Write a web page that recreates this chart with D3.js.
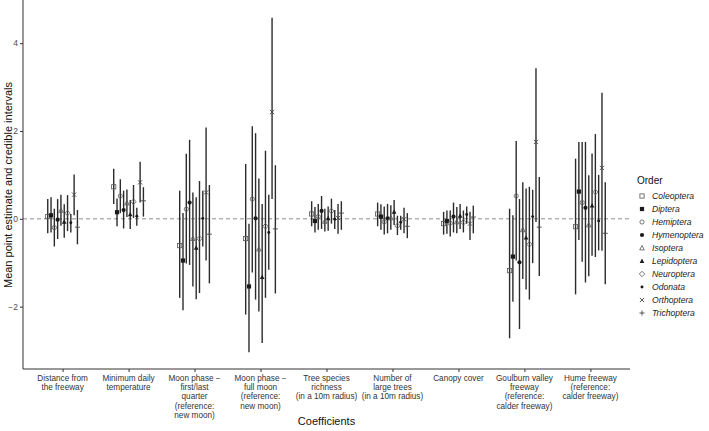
<!DOCTYPE html>
<html><head><meta charset="utf-8">
<script src="https://cdn.jsdelivr.net/npm/d3@7"></script>
<style>body{margin:0;background:#fff}svg{display:block;font-family:"Liberation Sans",Arial,sans-serif}</style>
</head><body><svg id="c" width="709" height="431"></svg>
<script>
const coefficients = [
  ["Distance from","the freeway"],
  ["Minimum daily","temperature"],
  ["Moon phase \u2212","first/last","quarter","(reference:","new moon)"],
  ["Moon phase \u2212","full moon","(reference:","new moon)"],
  ["Tree species","richness","(in a 10m radius)"],
  ["Number of","large trees","(in a 10m radius)"],
  ["Canopy cover"],
  ["Goulburn valley","freeway","(reference:","calder freeway)"],
  ["Hume freeway","(reference:","calder freeway)"]
];
const orders = ["Coleoptera","Diptera","Hemiptera","Hymenoptera","Isoptera","Lepidoptera","Neuroptera","Odonata","Orthoptera","Trichoptera"];
const yTicks = [-2, 0, 2, 4];

// rows: coefficient, columns: order
const estimate = [
  [0.05, 0.08, -0.20, -0.02, 0.19, -0.07, 0.13, -0.09, 0.55, -0.19],
  [0.73, 0.15, 0.52, 0.20, 0.36, 0.10, 0.39, 0.06, 0.83, 0.41],
  [-0.61, -0.95, 0.22, 0.37, -0.45, -0.66, -0.45, 0.01, 0.60, -0.35],
  [-0.45, -1.54, 0.45, 0.01, -0.69, -1.33, -0.17, -0.31, 2.43, -0.23],
  [0.11, -0.05, 0.05, 0.18, -0.06, 0.01, 0.18, -0.01, 0.02, 0.13],
  [0.11, 0.05, -0.07, 0.01, 0.02, 0.16, -0.16, -0.08, -0.01, -0.17],
  [-0.11, -0.05, -0.10, 0.05, -0.07, 0.07, -0.08, 0.10, -0.11, 0.04],
  [-1.18, -0.86, 0.52, -0.99, -0.25, -0.43, -0.58, 0.05, 1.75, -0.19],
  [-0.18, 0.62, 0.37, 0.25, -0.14, 0.30, 0.61, -0.05, 1.16, -0.33]
];
const lower = [
  [-0.33, -0.31, -0.63, -0.46, -0.16, -0.43, -0.28, -0.31, 0.08, -0.58],
  [0.34, -0.17, 0.13, -0.22, 0.04, -0.23, 0.02, -0.16, 0.37, 0.05],
  [-1.80, -2.08, -1.02, -1.05, -1.54, -1.83, -1.69, -0.63, -0.95, -1.47],
  [-2.18, -3.04, -1.22, -1.84, -2.11, -2.83, -1.80, -1.16, 0.45, -1.70],
  [-0.17, -0.31, -0.25, -0.23, -0.29, -0.27, -0.11, -0.23, -0.34, -0.25],
  [-0.17, -0.25, -0.36, -0.33, -0.25, -0.14, -0.37, -0.25, -0.33, -0.44],
  [-0.36, -0.34, -0.40, -0.31, -0.33, -0.23, -0.31, -0.11, -0.48, -0.33],
  [-2.72, -1.89, -0.95, -2.51, -1.37, -1.61, -1.84, -1.01, -0.07, -1.30],
  [-1.72, -0.48, -0.98, -1.45, -1.31, -0.84, -0.87, -0.72, -0.73, -1.49]
];
const upper = [
  [0.45, 0.49, 0.23, 0.45, 0.55, 0.33, 0.54, 0.11, 1.01, 0.20],
  [1.14, 0.46, 0.90, 0.64, 0.67, 0.43, 0.77, 0.25, 1.30, 0.72],
  [0.64, 0.13, 1.48, 1.80, 0.60, 0.49, 0.86, 0.64, 2.08, 0.77],
  [1.25, -0.11, 2.11, 1.95, 0.92, 0.34, 1.55, 0.55, 4.58, 1.22],
  [0.40, 0.27, 0.34, 0.52, 0.23, 0.28, 0.46, 0.20, 0.34, 0.40],
  [0.37, 0.33, 0.28, 0.34, 0.31, 0.43, 0.07, 0.07, 0.25, 0.13],
  [0.16, 0.19, 0.19, 0.37, 0.27, 0.34, 0.19, 0.28, 0.16, 0.30],
  [0.23, 0.08, 1.77, 0.45, 0.83, 0.69, 0.73, 0.66, 3.43, 0.95],
  [1.37, 1.75, 1.75, 1.75, 0.99, 1.49, 1.93, 1.00, 2.87, 0.83]
];

const svg = d3.select("#c");
const m = {left: 23, right: 630, top: 1, bottom: 369};

const x = d3.scalePoint().domain(d3.range(coefficients.length)).range([m.left, m.right]).padding(0.6);
const step = x.step();
const dodge = d3.scaleBand().domain(d3.range(orders.length)).range([-step*0.25, step*0.25]);
const y = d3.scaleLinear().domain([-3.42, 4.96]).range([m.bottom, m.top]);

const ink = "#1a1a1a";
// zero line
svg.append("line").attr("x1", m.left).attr("x2", m.right).attr("y1", y(0)).attr("y2", y(0))
  .attr("stroke", "#7f7f7f").attr("stroke-width", 0.9).attr("stroke-dasharray", "4,3");

// axes
const yAxis = svg.append("g").attr("transform", `translate(${m.left},0)`)
  .call(d3.axisLeft(y).tickValues(yTicks).tickSize(3).tickPadding(2).tickFormat(d3.format("d")));
yAxis.select(".domain").attr("d", `M0,${m.top-1}V${m.bottom}`).attr("stroke", "#333").attr("stroke-width", 1);
yAxis.selectAll(".tick line").attr("stroke", "#333");
yAxis.selectAll(".tick text").attr("font-size", 8.5).attr("fill", "#4d4d4d").attr("font-family", "Liberation Sans, Arial, sans-serif");

const xAxis = svg.append("g").attr("transform", `translate(0,${m.bottom})`)
  .call(d3.axisBottom(x).tickSize(3).tickFormat(() => ""));
xAxis.select(".domain").attr("d", `M${m.left},0H${m.right}`).attr("stroke", "#333").attr("stroke-width", 1);
xAxis.selectAll(".tick line").attr("stroke", "#333");
xAxis.selectAll(".tick text").remove();
coefficients.forEach((lines, i) => {
  const t = svg.append("text").attr("text-anchor", "middle").attr("font-size", 8.2).attr("fill", "#333");
  lines.forEach((ln, k) => t.append("tspan").attr("x", x(i)).attr("y", m.bottom + 12 + k*9.2).text(ln));
});

// titles
svg.append("text").attr("x", x(4)).attr("y", 425).attr("text-anchor", "middle").attr("font-size", 11).attr("fill", "#111").text("Coefficients");
svg.append("text").attr("transform", `translate(12,${(m.top+m.bottom)/2}) rotate(-90)`).attr("text-anchor", "middle").attr("font-size", 11).attr("fill", "#111").text("Mean point estimate and credible intervals");

// symbol drawing
function drawSymbol(g, k, cx, cy) {
  const s = 2.1;
  const open = {fill: "none", stroke: "#555", "stroke-width": 0.8};
  const filled = {fill: ink, stroke: "none"};
  const apply = (el, o) => { for (const key in o) el.attr(key, o[key]); return el; };
  switch (k) {
    case 0: apply(g.append("rect").attr("x", cx-s).attr("y", cy-s).attr("width", 2*s).attr("height", 2*s), open); break;
    case 1: apply(g.append("rect").attr("x", cx-s).attr("y", cy-s).attr("width", 2*s).attr("height", 2*s), filled); break;
    case 2: apply(g.append("circle").attr("cx", cx).attr("cy", cy).attr("r", s), open); break;
    case 3: apply(g.append("circle").attr("cx", cx).attr("cy", cy).attr("r", s), filled); break;
    case 4: apply(g.append("path").attr("d", `M${cx},${cy-s*1.2}L${cx+s*1.1},${cy+s*0.9}L${cx-s*1.1},${cy+s*0.9}Z`), open); break;
    case 5: apply(g.append("path").attr("d", `M${cx},${cy-s*1.2}L${cx+s*1.1},${cy+s*0.9}L${cx-s*1.1},${cy+s*0.9}Z`), filled); break;
    case 6: apply(g.append("path").attr("d", `M${cx},${cy-s*1.3}L${cx+s*1.3},${cy}L${cx},${cy+s*1.3}L${cx-s*1.3},${cy}Z`), open); break;
    case 7: apply(g.append("circle").attr("cx", cx).attr("cy", cy).attr("r", s*0.7), filled); break;
    case 8: apply(g.append("path").attr("d", `M${cx-s},${cy-s}L${cx+s},${cy+s}M${cx-s},${cy+s}L${cx+s},${cy-s}`), {fill: "none", stroke: "#444", "stroke-width": 0.9}); break;
    case 9: apply(g.append("path").attr("d", `M${cx-s*1.2},${cy}L${cx+s*1.2},${cy}M${cx},${cy-s*1.2}L${cx},${cy+s*1.2}`), {fill: "none", stroke: "#444", "stroke-width": 0.9}); break;
  }
}

// marks
const marks = svg.append("g");
coefficients.forEach((_, i) => {
  orders.forEach((_, k) => {
    const cx = x(i) + dodge(k) + dodge.bandwidth()/2;
    marks.append("line").attr("x1", cx).attr("x2", cx)
      .attr("y1", y(lower[i][k])).attr("y2", y(upper[i][k]))
      .attr("stroke", "#2b2b2b").attr("stroke-width", 1.4);
  });
});
coefficients.forEach((_, i) => {
  orders.forEach((_, k) => {
    const cx = x(i) + dodge(k) + dodge.bandwidth()/2;
    drawSymbol(marks, k, cx, y(estimate[i][k]));
  });
});

// legend
const lg = svg.append("g");
lg.append("text").attr("x", 637).attr("y", 184).attr("font-size", 10).attr("fill", "#111").text("Order");
orders.forEach((o, k) => {
  const cy = 196 + k*13;
  drawSymbol(lg, k, 642, cy);
  lg.append("text").attr("x", 652).attr("y", cy + 3).attr("font-size", 8.6).attr("font-style", "italic").attr("fill", "#222").text(o);
});
</script></body></html>
